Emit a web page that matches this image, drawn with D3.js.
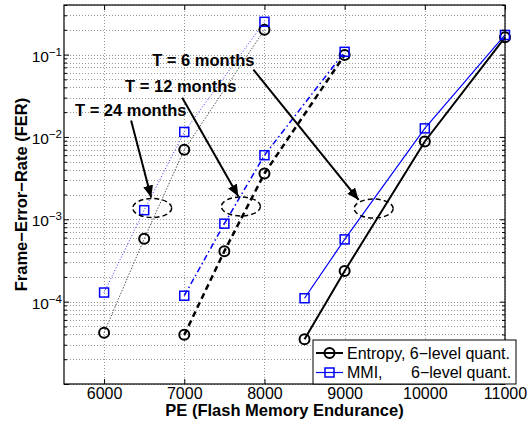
<!DOCTYPE html>
<html>
<head>
<meta charset="utf-8">
<script src="https://cdn.jsdelivr.net/npm/d3@7"></script>
<style>
  body { margin: 0; background: #fff; }
  svg { display: block; font-family: "Liberation Sans", Arial, sans-serif; }
</style>
</head>
<body>
<svg id="chart" width="527" height="424"></svg>
<script>
// FER vs PE cycles, three retention times
const pe24 = [6000, 6500, 7000, 8000];
const entropy24 = [4.2e-5, 5.8e-4, 7.0e-3, 0.20];
const mmi24 = [1.29e-4, 1.29e-3, 1.15e-2, 0.25];

const pe12 = [7000, 7500, 8000, 9000];
const entropy12 = [3.95e-5, 4.1e-4, 3.6e-3, 0.099];
const mmi12 = [1.18e-4, 8.85e-4, 6.0e-3, 0.108];

const pe6 = [8500, 9000, 10000, 11000];
const entropy6 = [3.5e-5, 2.36e-4, 8.8e-3, 0.162];
const mmi6 = [1.1e-4, 5.7e-4, 1.27e-2, 0.173];

const xTicks = [6000, 7000, 8000, 9000, 10000, 11000];
const yTicks = [1e-5, 1e-4, 1e-3, 1e-2, 1e-1];
// bottom decade is not labelled in the original
const yLabelTicks = [1e-4, 1e-3, 1e-2, 1e-1];
const yTickExp = ["−4", "−3", "−2", "−1"];

const legendNames = ["Entropy, ", "MMI,"];
const legendQuant = "6−level quant.";

// annotations (data coords)
const noteText = ["T = 6 months", "T = 12 months", "T = 24 months"];
const notePE = [6600, 6262, 5637];
const noteFER = [0.0735, 0.0356, 0.0182];
const arrowFromPE = [7862, 6975, 6337];
const arrowFromFER = [0.0658, 0.030, 0.0158];
const arrowToPE = [9175, 7675, 6587];
const arrowToFER = [1.72e-3, 1.89e-3, 1.84e-3];
const ellipsePE = [9362, 7706, 6600];
const ellipseFER = [1.35e-3, 1.43e-3, 1.37e-3];

const plotL = 64, plotR = 505, plotT = 5, plotB = 384;
const svg = d3.select("#chart");

const x = d3.scaleLinear().domain([5500, 11000]).range([plotL, plotR]);
const y = d3.scaleLog().domain([1e-5, 0.4]).range([plotB, plotT]);

let yMinor = [];
yTicks.forEach(t => {
    for (let k = 2; k <= 9; k++) {
        if (t * k <= 0.4) yMinor.push(t * k);
    }
});

// grid
const grid = svg.append("g").attr("stroke", "#999").attr("stroke-width", 1)
    .attr("stroke-dasharray", "1,2").attr("shape-rendering", "crispEdges");
grid.selectAll(".gx").data(xTicks).join("line")
    .attr("x1", d => Math.round(x(d)) + 0.5).attr("x2", d => Math.round(x(d)) + 0.5)
    .attr("y1", plotT).attr("y2", plotB);
grid.selectAll(".gy").data(yTicks.concat(yMinor)).join("line")
    .attr("x1", plotL).attr("x2", plotR)
    .attr("y1", d => Math.round(y(d)) + 0.5).attr("y2", d => Math.round(y(d)) + 0.5);

// curves
const series = [
    {pe: pe24, fer: entropy24, color: "#555", width: 1, dash: "1.5,1.5", mark: "circle"},
    {pe: pe24, fer: mmi24, color: "#3333ff", width: 1, dash: "1,2", mark: "square"},
    {pe: pe12, fer: entropy12, color: "#000", width: 2.5, dash: "6,4", mark: "circle"},
    {pe: pe12, fer: mmi12, color: "#0000ff", width: 1.5, dash: "6,3,1.5,3", mark: "square"},
    {pe: pe6, fer: entropy6, color: "#000", width: 2, dash: null, mark: "circle"},
    {pe: pe6, fer: mmi6, color: "#0000ff", width: 1.2, dash: null, mark: "square"}
];

const line = d3.line().x(d => x(d[0])).y(d => y(d[1]));

series.forEach(s => {
    const pts = s.pe.map((p, i) => [p, s.fer[i]]);
    svg.append("path")
        .datum(pts)
        .attr("fill", "none")
        .attr("stroke", s.color)
        .attr("stroke-width", s.width)
        .attr("stroke-dasharray", s.dash)
        .attr("d", line);
});

function drawMarker(g, kind, cx, cy) {
    if (kind === "circle") {
        g.append("circle").attr("cx", cx).attr("cy", cy).attr("r", 5)
            .attr("fill", "none").attr("stroke", "#000").attr("stroke-width", 2);
    } else {
        g.append("rect").attr("x", cx - 4.5).attr("y", cy - 4.5)
            .attr("width", 9).attr("height", 9)
            .attr("fill", "none").attr("stroke", "#0000ff").attr("stroke-width", 1.5);
    }
}

const marks = svg.append("g");
series.forEach(s => {
    s.pe.forEach((p, i) => drawMarker(marks, s.mark, x(p), y(s.fer[i])));
});

// ellipses and arrows
svg.append("defs").append("marker")
    .attr("id", "head")
    .attr("markerUnits", "userSpaceOnUse")
    .attr("markerWidth", 14).attr("markerHeight", 12)
    .attr("refX", 12).attr("refY", 5)
    .attr("orient", "auto")
    .append("path")
    .attr("d", "M0,0 L12,5 L0,10 Z")
    .attr("fill", "#000");

const notes = svg.append("g");
ellipsePE.forEach((p, i) => {
    notes.append("ellipse")
        .attr("cx", x(p)).attr("cy", y(ellipseFER[i]))
        .attr("rx", 19.5).attr("ry", 9.5)
        .attr("fill", "none").attr("stroke", "#000")
        .attr("stroke-width", 1.5).attr("stroke-dasharray", "5,3");
});
arrowFromPE.forEach((p, i) => {
    notes.append("line")
        .attr("x1", x(p)).attr("y1", y(arrowFromFER[i]))
        .attr("x2", x(arrowToPE[i])).attr("y2", y(arrowToFER[i]))
        .attr("stroke", "#000").attr("stroke-width", 2)
        .attr("marker-end", "url(#head)");
});
noteText.forEach((t, i) => {
    notes.append("text")
        .attr("x", x(notePE[i])).attr("y", y(noteFER[i]))
        .attr("font-size", "16.5px").attr("font-weight", "bold")
        .text(t);
});

// axes box with inward ticks
const axes = svg.append("g");
function tickAxis(axis, tx, ty) {
    const g = axes.append("g").attr("transform", `translate(${tx},${ty})`).call(axis);
    g.select(".domain").remove();
    g.selectAll("line").attr("stroke", "#000");
    return g;
}
const xb = tickAxis(d3.axisBottom(x).tickValues(xTicks).tickSizeInner(-5).tickSizeOuter(0)
    .tickPadding(4).tickFormat(d3.format("d")), 0, plotB);
xb.selectAll("text").attr("font-size", "16px").attr("fill", "#000")
    .attr("font-family", "Liberation Sans, Arial, sans-serif");
tickAxis(d3.axisTop(x).tickValues(xTicks).tickSizeInner(-5).tickSizeOuter(0).tickFormat(""), 0, plotT);
tickAxis(d3.axisLeft(y).tickValues(yTicks).tickSizeInner(-5).tickSizeOuter(0).tickFormat(""), plotL, 0);
tickAxis(d3.axisLeft(y).tickValues(yMinor).tickSizeInner(-3).tickSizeOuter(0).tickFormat(""), plotL, 0);
tickAxis(d3.axisRight(y).tickValues(yTicks).tickSizeInner(-5).tickSizeOuter(0).tickFormat(""), plotR, 0);
tickAxis(d3.axisRight(y).tickValues(yMinor).tickSizeInner(-3).tickSizeOuter(0).tickFormat(""), plotR, 0);

axes.append("rect")
    .attr("x", plotL).attr("y", plotT)
    .attr("width", plotR - plotL).attr("height", plotB - plotT)
    .attr("fill", "none").attr("stroke", "#000").attr("stroke-width", 1.2);

// y tick labels 10^n
yLabelTicks.forEach((t, i) => {
    const lab = axes.append("text")
        .attr("x", plotL - 2).attr("y", y(t) + 7)
        .attr("text-anchor", "end")
        .attr("font-size", "15.5px");
    lab.append("tspan").text("10");
    lab.append("tspan").attr("dy", -6).attr("font-size", "11.5px").text(yTickExp[i]);
});

// axis titles
svg.append("text")
    .attr("x", (plotL + plotR) / 2).attr("y", 415.5)
    .attr("text-anchor", "middle")
    .attr("font-size", "16.5px").attr("font-weight", "bold")
    .text("PE (Flash Memory Endurance)");
svg.append("text")
    .attr("transform", `translate(26.5,${(plotT + plotB) / 2}) rotate(-90)`)
    .attr("text-anchor", "middle")
    .attr("font-size", "16.5px").attr("font-weight", "bold")
    .text("Frame−Error−Rate (FER)");

// legend
const legend = svg.append("g");
legend.append("rect")
    .attr("x", 313).attr("y", 340).attr("width", 203).attr("height", 44)
    .attr("fill", "#fff").attr("stroke", "#000").attr("stroke-width", 1);
const legendSeries = [series[4], series[5]];
legendSeries.forEach((s, i) => {
    const ly = 353 + i * 19.5;
    legend.append("line")
        .attr("x1", 316).attr("x2", 343).attr("y1", ly).attr("y2", ly)
        .attr("stroke", s.color).attr("stroke-width", s.width);
    drawMarker(legend, s.mark, 329.5, ly);
    const txt = legend.append("text")
        .attr("x", 347).attr("y", ly + 5.5)
        .attr("font-size", "16px");
    txt.append("tspan").text(legendNames[i]);
    if (i === 0) txt.append("tspan").text(legendQuant);
    else txt.append("tspan").attr("x", 411).text(legendQuant);
});
</script>
</body>
</html>
